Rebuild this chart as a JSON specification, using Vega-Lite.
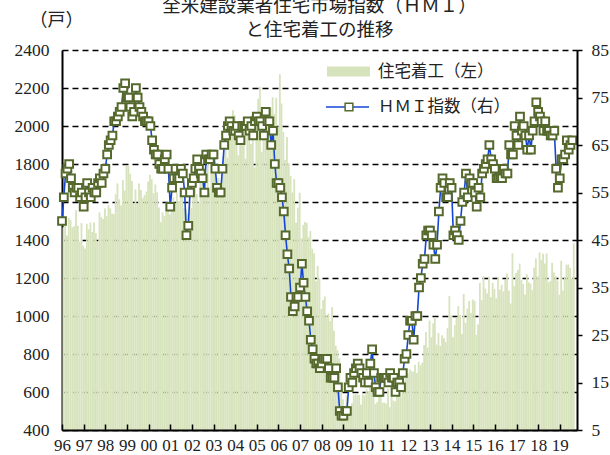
{
"$schema": "https://vega.github.io/schema/vega-lite/v6.json",
"width": 515, "height": 380,
"autosize": "none",
"padding": {"left": 62, "top": 50, "right": 33, "bottom": 25},
"background": "white",
"config": {"view": {"stroke": null}, "font": "Liberation Serif, 'Noto Sans CJK JP'"},
"title": {"text": ["全米建設業者住宅市場指数（ＨＭＩ）", "と住宅着工の推移"], "anchor": "middle", "fontSize": 18.5, "fontWeight": "normal", "color": "#222", "lineHeight": 24, "offset": -28, "font": "Liberation Serif, 'Noto Sans CJK JP'"},
"data": {"values": [
{"d":"1996-01-01","hs":1467,"hmi":49},{"d":"1996-02-01","hs":1491,"hmi":54},{"d":"1996-03-01","hs":1424,"hmi":59},{"d":"1996-04-01","hs":1516,"hmi":60},{"d":"1996-05-01","hs":1504,"hmi":61},{"d":"1996-06-01","hs":1467,"hmi":58},{"d":"1996-07-01","hs":1472,"hmi":56},{"d":"1996-08-01","hs":1557,"hmi":55},{"d":"1996-09-01","hs":1475,"hmi":56},{"d":"1996-10-01","hs":1392,"hmi":56},{"d":"1996-11-01","hs":1489,"hmi":54},{"d":"1996-12-01","hs":1370,"hmi":55},
{"d":"1997-01-01","hs":1355,"hmi":52},{"d":"1997-02-01","hs":1486,"hmi":54},{"d":"1997-03-01","hs":1457,"hmi":57},{"d":"1997-04-01","hs":1492,"hmi":55},{"d":"1997-05-01","hs":1442,"hmi":54},{"d":"1997-06-01","hs":1494,"hmi":56},{"d":"1997-07-01","hs":1437,"hmi":55},{"d":"1997-08-01","hs":1390,"hmi":55},{"d":"1997-09-01","hs":1546,"hmi":57},{"d":"1997-10-01","hs":1520,"hmi":58},{"d":"1997-11-01","hs":1510,"hmi":57},{"d":"1997-12-01","hs":1566,"hmi":59},
{"d":"1998-01-01","hs":1525,"hmi":60},{"d":"1998-02-01","hs":1584,"hmi":63},{"d":"1998-03-01","hs":1567,"hmi":65},{"d":"1998-04-01","hs":1540,"hmi":66},{"d":"1998-05-01","hs":1536,"hmi":67},{"d":"1998-06-01","hs":1641,"hmi":70},{"d":"1998-07-01","hs":1698,"hmi":70},{"d":"1998-08-01","hs":1614,"hmi":71},{"d":"1998-09-01","hs":1582,"hmi":72},{"d":"1998-10-01","hs":1715,"hmi":73},{"d":"1998-11-01","hs":1660,"hmi":77},{"d":"1998-12-01","hs":1792,"hmi":78},
{"d":"1999-01-01","hs":1788,"hmi":75},{"d":"1999-02-01","hs":1749,"hmi":75},{"d":"1999-03-01","hs":1712,"hmi":73},{"d":"1999-04-01","hs":1592,"hmi":71},{"d":"1999-05-01","hs":1666,"hmi":72},{"d":"1999-06-01","hs":1591,"hmi":77},{"d":"1999-07-01","hs":1698,"hmi":75},{"d":"1999-08-01","hs":1663,"hmi":73},{"d":"1999-09-01","hs":1620,"hmi":72},{"d":"1999-10-01","hs":1636,"hmi":71},{"d":"1999-11-01","hs":1655,"hmi":70},{"d":"1999-12-01","hs":1708,"hmi":70},
{"d":"2000-01-01","hs":1743,"hmi":70},{"d":"2000-02-01","hs":1720,"hmi":69},{"d":"2000-03-01","hs":1646,"hmi":66},{"d":"2000-04-01","hs":1692,"hmi":64},{"d":"2000-05-01","hs":1651,"hmi":63},{"d":"2000-06-01","hs":1571,"hmi":63},{"d":"2000-07-01","hs":1494,"hmi":61},{"d":"2000-08-01","hs":1546,"hmi":60},{"d":"2000-09-01","hs":1527,"hmi":60},{"d":"2000-10-01","hs":1550,"hmi":62},{"d":"2000-11-01","hs":1559,"hmi":63},{"d":"2000-12-01","hs":1535,"hmi":60},
{"d":"2001-01-01","hs":1600,"hmi":52},{"d":"2001-02-01","hs":1625,"hmi":56},{"d":"2001-03-01","hs":1590,"hmi":58},{"d":"2001-04-01","hs":1649,"hmi":60},{"d":"2001-05-01","hs":1605,"hmi":58},{"d":"2001-06-01","hs":1636,"hmi":58},{"d":"2001-07-01","hs":1670,"hmi":60},{"d":"2001-08-01","hs":1567,"hmi":59},{"d":"2001-09-01","hs":1562,"hmi":55},{"d":"2001-10-01","hs":1540,"hmi":46},{"d":"2001-11-01","hs":1602,"hmi":48},{"d":"2001-12-01","hs":1568,"hmi":55},
{"d":"2002-01-01","hs":1698,"hmi":57},{"d":"2002-02-01","hs":1829,"hmi":58},{"d":"2002-03-01","hs":1642,"hmi":60},{"d":"2002-04-01","hs":1592,"hmi":62},{"d":"2002-05-01","hs":1764,"hmi":60},{"d":"2002-06-01","hs":1717,"hmi":59},{"d":"2002-07-01","hs":1655,"hmi":58},{"d":"2002-08-01","hs":1633,"hmi":55},{"d":"2002-09-01","hs":1804,"hmi":63},{"d":"2002-10-01","hs":1648,"hmi":62},{"d":"2002-11-01","hs":1753,"hmi":62},{"d":"2002-12-01","hs":1788,"hmi":63},
{"d":"2003-01-01","hs":1853,"hmi":63},{"d":"2003-02-01","hs":1629,"hmi":60},{"d":"2003-03-01","hs":1726,"hmi":56},{"d":"2003-04-01","hs":1643,"hmi":55},{"d":"2003-05-01","hs":1751,"hmi":55},{"d":"2003-06-01","hs":1867,"hmi":60},{"d":"2003-07-01","hs":1897,"hmi":65},{"d":"2003-08-01","hs":1833,"hmi":67},{"d":"2003-09-01","hs":1939,"hmi":69},{"d":"2003-10-01","hs":1967,"hmi":70},{"d":"2003-11-01","hs":2083,"hmi":69},{"d":"2003-12-01","hs":2057,"hmi":68},
{"d":"2004-01-01","hs":1911,"hmi":68},{"d":"2004-02-01","hs":1846,"hmi":69},{"d":"2004-03-01","hs":1998,"hmi":67},{"d":"2004-04-01","hs":2003,"hmi":66},{"d":"2004-05-01","hs":1981,"hmi":69},{"d":"2004-06-01","hs":1828,"hmi":69},{"d":"2004-07-01","hs":2002,"hmi":69},{"d":"2004-08-01","hs":2024,"hmi":70},{"d":"2004-09-01","hs":1905,"hmi":68},{"d":"2004-10-01","hs":2072,"hmi":69},{"d":"2004-11-01","hs":1782,"hmi":67},{"d":"2004-12-01","hs":2042,"hmi":70},
{"d":"2005-01-01","hs":2144,"hmi":71},{"d":"2005-02-01","hs":2207,"hmi":70},{"d":"2005-03-01","hs":1864,"hmi":70},{"d":"2005-04-01","hs":2061,"hmi":69},{"d":"2005-05-01","hs":2025,"hmi":67},{"d":"2005-06-01","hs":2068,"hmi":72},{"d":"2005-07-01","hs":2054,"hmi":70},{"d":"2005-08-01","hs":2095,"hmi":70},{"d":"2005-09-01","hs":2151,"hmi":65},{"d":"2005-10-01","hs":2065,"hmi":68},{"d":"2005-11-01","hs":2147,"hmi":61},{"d":"2005-12-01","hs":1994,"hmi":57},
{"d":"2006-01-01","hs":2273,"hmi":57},{"d":"2006-02-01","hs":2119,"hmi":56},{"d":"2006-03-01","hs":1969,"hmi":54},{"d":"2006-04-01","hs":1821,"hmi":51},{"d":"2006-05-01","hs":1942,"hmi":46},{"d":"2006-06-01","hs":1802,"hmi":42},{"d":"2006-07-01","hs":1737,"hmi":39},{"d":"2006-08-01","hs":1650,"hmi":33},{"d":"2006-09-01","hs":1720,"hmi":30},{"d":"2006-10-01","hs":1491,"hmi":31},{"d":"2006-11-01","hs":1570,"hmi":33},{"d":"2006-12-01","hs":1649,"hmi":33},
{"d":"2007-01-01","hs":1409,"hmi":35},{"d":"2007-02-01","hs":1480,"hmi":40},{"d":"2007-03-01","hs":1495,"hmi":36},{"d":"2007-04-01","hs":1490,"hmi":33},{"d":"2007-05-01","hs":1415,"hmi":30},{"d":"2007-06-01","hs":1448,"hmi":28},{"d":"2007-07-01","hs":1354,"hmi":24},{"d":"2007-08-01","hs":1330,"hmi":22},{"d":"2007-09-01","hs":1183,"hmi":20},{"d":"2007-10-01","hs":1264,"hmi":19},{"d":"2007-11-01","hs":1197,"hmi":19},{"d":"2007-12-01","hs":1037,"hmi":18},
{"d":"2008-01-01","hs":1084,"hmi":19},{"d":"2008-02-01","hs":1103,"hmi":20},{"d":"2008-03-01","hs":1005,"hmi":20},{"d":"2008-04-01","hs":1013,"hmi":20},{"d":"2008-05-01","hs":973,"hmi":18},{"d":"2008-06-01","hs":1046,"hmi":16},{"d":"2008-07-01","hs":923,"hmi":16},{"d":"2008-08-01","hs":844,"hmi":16},{"d":"2008-09-01","hs":820,"hmi":18},{"d":"2008-10-01","hs":777,"hmi":14},{"d":"2008-11-01","hs":652,"hmi":9},{"d":"2008-12-01","hs":560,"hmi":8},
{"d":"2009-01-01","hs":490,"hmi":8},{"d":"2009-02-01","hs":582,"hmi":9},{"d":"2009-03-01","hs":505,"hmi":9},{"d":"2009-04-01","hs":478,"hmi":14},{"d":"2009-05-01","hs":540,"hmi":16},{"d":"2009-06-01","hs":585,"hmi":15},{"d":"2009-07-01","hs":594,"hmi":17},{"d":"2009-08-01","hs":586,"hmi":18},{"d":"2009-09-01","hs":585,"hmi":19},{"d":"2009-10-01","hs":534,"hmi":18},{"d":"2009-11-01","hs":588,"hmi":17},{"d":"2009-12-01","hs":581,"hmi":16},
{"d":"2010-01-01","hs":614,"hmi":15},{"d":"2010-02-01","hs":604,"hmi":17},{"d":"2010-03-01","hs":636,"hmi":15},{"d":"2010-04-01","hs":687,"hmi":19},{"d":"2010-05-01","hs":583,"hmi":22},{"d":"2010-06-01","hs":536,"hmi":17},{"d":"2010-07-01","hs":546,"hmi":14},{"d":"2010-08-01","hs":599,"hmi":13},{"d":"2010-09-01","hs":594,"hmi":13},{"d":"2010-10-01","hs":543,"hmi":16},{"d":"2010-11-01","hs":545,"hmi":16},{"d":"2010-12-01","hs":539,"hmi":16},
{"d":"2011-01-01","hs":617,"hmi":16},{"d":"2011-02-01","hs":520,"hmi":15},{"d":"2011-03-01","hs":593,"hmi":17},{"d":"2011-04-01","hs":555,"hmi":16},{"d":"2011-05-01","hs":551,"hmi":16},{"d":"2011-06-01","hs":615,"hmi":13},{"d":"2011-07-01","hs":606,"hmi":15},{"d":"2011-08-01","hs":573,"hmi":15},{"d":"2011-09-01","hs":650,"hmi":14},{"d":"2011-10-01","hs":624,"hmi":17},{"d":"2011-11-01","hs":701,"hmi":20},{"d":"2011-12-01","hs":699,"hmi":21},
{"d":"2012-01-01","hs":720,"hmi":25},{"d":"2012-02-01","hs":710,"hmi":28},{"d":"2012-03-01","hs":707,"hmi":28},{"d":"2012-04-01","hs":744,"hmi":24},{"d":"2012-05-01","hs":700,"hmi":29},{"d":"2012-06-01","hs":760,"hmi":29},{"d":"2012-07-01","hs":741,"hmi":35},{"d":"2012-08-01","hs":754,"hmi":37},{"d":"2012-09-01","hs":847,"hmi":40},{"d":"2012-10-01","hs":915,"hmi":41},{"d":"2012-11-01","hs":833,"hmi":46},{"d":"2012-12-01","hs":976,"hmi":47},
{"d":"2013-01-01","hs":888,"hmi":47},{"d":"2013-02-01","hs":962,"hmi":46},{"d":"2013-03-01","hs":994,"hmi":44},{"d":"2013-04-01","hs":849,"hmi":41},{"d":"2013-05-01","hs":910,"hmi":44},{"d":"2013-06-01","hs":842,"hmi":51},{"d":"2013-07-01","hs":898,"hmi":56},{"d":"2013-08-01","hs":883,"hmi":58},{"d":"2013-09-01","hs":863,"hmi":57},{"d":"2013-10-01","hs":936,"hmi":54},{"d":"2013-11-01","hs":1105,"hmi":54},{"d":"2013-12-01","hs":1003,"hmi":57},
{"d":"2014-01-01","hs":888,"hmi":56},{"d":"2014-02-01","hs":952,"hmi":46},{"d":"2014-03-01","hs":992,"hmi":47},{"d":"2014-04-01","hs":1052,"hmi":46},{"d":"2014-05-01","hs":1005,"hmi":45},{"d":"2014-06-01","hs":905,"hmi":49},{"d":"2014-07-01","hs":1116,"hmi":53},{"d":"2014-08-01","hs":964,"hmi":55},{"d":"2014-09-01","hs":1039,"hmi":59},{"d":"2014-10-01","hs":1079,"hmi":54},{"d":"2014-11-01","hs":1016,"hmi":58},{"d":"2014-12-01","hs":1087,"hmi":57},
{"d":"2015-01-01","hs":1080,"hmi":57},{"d":"2015-02-01","hs":900,"hmi":55},{"d":"2015-03-01","hs":956,"hmi":52},{"d":"2015-04-01","hs":1174,"hmi":56},{"d":"2015-05-01","hs":1085,"hmi":54},{"d":"2015-06-01","hs":1208,"hmi":59},{"d":"2015-07-01","hs":1144,"hmi":60},{"d":"2015-08-01","hs":1119,"hmi":61},{"d":"2015-09-01","hs":1207,"hmi":62},{"d":"2015-10-01","hs":1099,"hmi":65},{"d":"2015-11-01","hs":1175,"hmi":62},{"d":"2015-12-01","hs":1142,"hmi":61},
{"d":"2016-01-01","hs":1093,"hmi":60},{"d":"2016-02-01","hs":1205,"hmi":58},{"d":"2016-03-01","hs":1139,"hmi":58},{"d":"2016-04-01","hs":1164,"hmi":58},{"d":"2016-05-01","hs":1129,"hmi":58},{"d":"2016-06-01","hs":1189,"hmi":60},{"d":"2016-07-01","hs":1224,"hmi":59},{"d":"2016-08-01","hs":1134,"hmi":59},{"d":"2016-09-01","hs":1066,"hmi":65},{"d":"2016-10-01","hs":1330,"hmi":63},{"d":"2016-11-01","hs":1158,"hmi":63},{"d":"2016-12-01","hs":1227,"hmi":69},
{"d":"2017-01-01","hs":1242,"hmi":67},{"d":"2017-02-01","hs":1276,"hmi":65},{"d":"2017-03-01","hs":1189,"hmi":71},{"d":"2017-04-01","hs":1168,"hmi":68},{"d":"2017-05-01","hs":1113,"hmi":69},{"d":"2017-06-01","hs":1220,"hmi":67},{"d":"2017-07-01","hs":1178,"hmi":64},{"d":"2017-08-01","hs":1170,"hmi":67},{"d":"2017-09-01","hs":1136,"hmi":64},{"d":"2017-10-01","hs":1254,"hmi":68},{"d":"2017-11-01","hs":1302,"hmi":70},{"d":"2017-12-01","hs":1209,"hmi":74},
{"d":"2018-01-01","hs":1334,"hmi":72},{"d":"2018-02-01","hs":1295,"hmi":71},{"d":"2018-03-01","hs":1327,"hmi":70},{"d":"2018-04-01","hs":1276,"hmi":68},{"d":"2018-05-01","hs":1329,"hmi":70},{"d":"2018-06-01","hs":1177,"hmi":68},{"d":"2018-07-01","hs":1184,"hmi":68},{"d":"2018-08-01","hs":1280,"hmi":67},{"d":"2018-09-01","hs":1229,"hmi":67},{"d":"2018-10-01","hs":1209,"hmi":68},{"d":"2018-11-01","hs":1187,"hmi":60},{"d":"2018-12-01","hs":1112,"hmi":56},
{"d":"2019-01-01","hs":1291,"hmi":58},{"d":"2019-02-01","hs":1134,"hmi":62},{"d":"2019-03-01","hs":1203,"hmi":62},{"d":"2019-04-01","hs":1270,"hmi":63},{"d":"2019-05-01","hs":1271,"hmi":66},{"d":"2019-06-01","hs":1253,"hmi":64},{"d":"2019-07-01","hs":1196,"hmi":65},{"d":"2019-08-01","hs":1382,"hmi":66}
]},
"layer": [
{
"mark": {"type": "bar", "binSpacing": 0, "clip": true},
"encoding": {
"x": {"field": "d", "type": "temporal", "timeUnit": "utcyearmonth",
"scale": {"type": "utc", "domain": [{"year": 1996, "month": 1, "date": 1, "utc": true}, {"year": 2019, "month": 10, "date": 19, "utc": true}]},
"axis": {"title": null, "labelExpr": "utcFormat(datum.value, '%y')", "tickCount": {"interval": "year", "step": 1}, "grid": false, "domainColor": "black", "domainWidth": 2, "tickColor": "black", "tickWidth": 1.5, "tickSize": -6, "labelPadding": 13, "labelFlush": false, "labelOverlap": false, "labelFont": "Liberation Serif", "labelFontSize": 17, "labelColor": "#222", "zindex": 1}},
"y": {"field": "hs", "type": "quantitative",
"scale": {"domain": [400, 2400], "nice": false, "zero": false},
"axis": {"title": "（戸）", "titleAngle": 0, "titleX": -6, "titleY": -30, "titleAlign": "center", "titleBaseline": "middle", "titleFont": "Liberation Serif, 'Noto Sans CJK JP'", "titleFontSize": 18, "titleFontWeight": "normal", "titleColor": "#222",
"values": [400, 600, 800, 1000, 1200, 1400, 1600, 1800, 2000, 2200, 2400], "format": "d", "ticks": false, "labelPadding": 13, "grid": true, "gridColor": "black", "gridDash": [6, 4], "gridWidth": 1.3, "domainColor": "black", "domainWidth": 2, "labelFont": "Liberation Serif", "labelFontSize": 17.5, "labelColor": "#222"}},
"y2": {"datum": 400},
"fill": {"datum": "住宅着工（左）", "type": "nominal", "scale": {"range": ["#d7e3bc"]},
"legend": {"orient": "none", "legendX": 265, "legendY": 0, "title": null, "padding": 0, "symbolType": "M-1,-0.23H1V0.23H-1Z", "symbolSize": 1849, "symbolStrokeWidth": 0, "labelOffset": 8, "labelFont": "Liberation Serif, 'Noto Sans CJK JP'", "labelFontSize": 16.5, "labelColor": "#222"}}
}
},
{
"mark": {"type": "line", "strokeWidth": 1.6},
"encoding": {
"x": {"field": "d", "type": "temporal"},
"y": {"field": "hmi", "type": "quantitative", "scale": {"domain": [5, 85], "nice": false, "zero": false},
"axis": {"orient": "right", "title": null, "values": [5, 15, 25, 35, 45, 55, 65, 75, 85], "grid": false, "tickSize": 5, "tickColor": "black", "tickWidth": 1.5, "domainColor": "black", "domainWidth": 2, "labelPadding": 9, "labelFont": "Liberation Serif", "labelFontSize": 17.5, "labelColor": "#222", "zindex": 1}},
"stroke": {"datum": "ＨＭＩ指数（右）", "type": "nominal", "scale": {"range": ["#1446d6"]},
"legend": {"orient": "none", "legendX": 263, "legendY": 34.5, "title": null, "padding": 0, "symbolType": "stroke", "symbolSize": 1849, "symbolStrokeWidth": 1.6, "labelOffset": 8, "labelFont": "Liberation Serif, 'Noto Sans CJK JP'", "labelFontSize": 16.5, "labelColor": "#222"}}
}
},
{
"mark": {"type": "point", "filled": true, "fill": "white", "stroke": "#56692c", "strokeWidth": 2, "size": 60, "opacity": 1},
"encoding": {
"x": {"field": "d", "type": "temporal"},
"y": {"field": "hmi", "type": "quantitative", "scale": {"domain": [5, 85], "nice": false, "zero": false}, "axis": null},
"shape": {"datum": "HMI", "type": "nominal", "scale": {"range": ["square"]},
"legend": {"orient": "none", "legendX": 282, "legendY": 52, "title": null, "padding": 0, "labelExpr": "''", "labelFontSize": 8, "symbolSize": 60, "zindex": 1,
"encode": {"symbols": {"update": {"fill": {"value": "white"}, "stroke": {"value": "#56692c"}, "strokeWidth": {"value": 2}, "opacity": {"value": 1}}}}}}
}
}
],
"resolve": {"scale": {"y": "independent"}}
}
